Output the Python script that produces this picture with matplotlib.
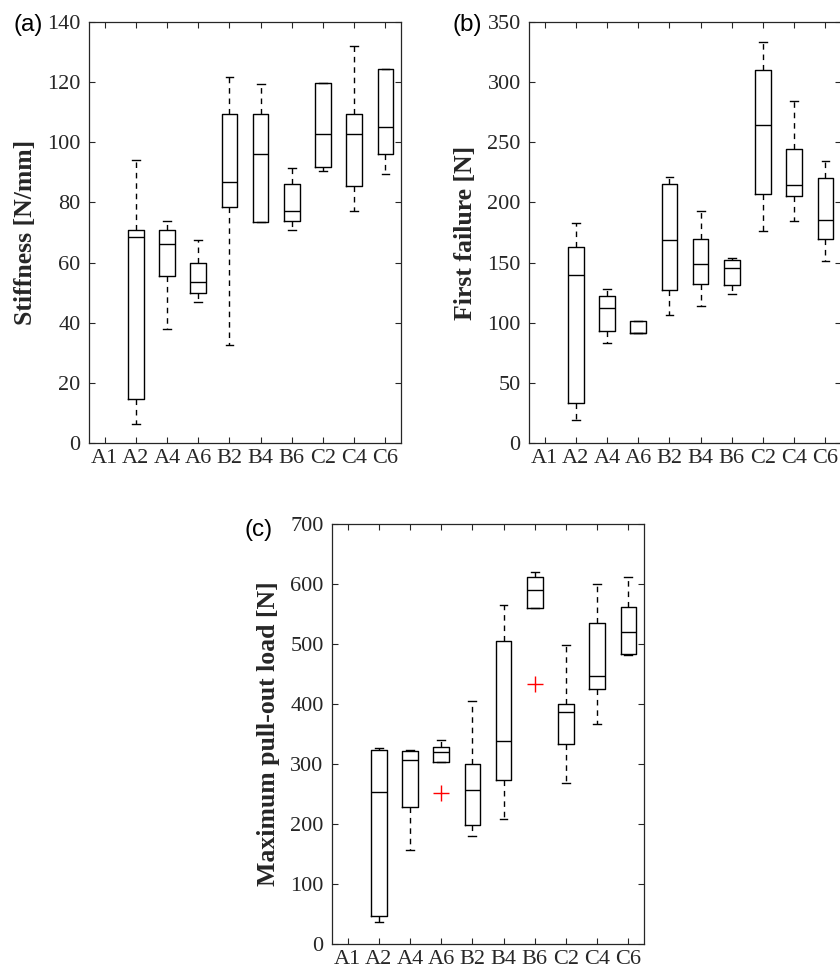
import matplotlib
matplotlib.use('Agg')
import matplotlib.pyplot as plt

# groups on the x axis; A1 has no data
groups = ['A1', 'A2', 'A4', 'A6', 'B2', 'B4', 'B6', 'C2', 'C4', 'C6']

# (a) stiffness [N/mm], groups A2..C6
stiff_lo = [6.4, 38.0, 46.8, 32.7, 73.4, 70.7, 90.3, 77.2, 89.5]
stiff_q1 = [14.7, 55.5, 49.9, 78.5, 73.4, 73.9, 91.9, 85.5, 96.1]
stiff_med = [68.4, 66.0, 53.5, 86.9, 96.2, 77.2, 102.6, 102.9, 105.1]
stiff_q3 = [70.9, 70.9, 59.9, 109.3, 109.5, 86.1, 119.7, 109.3, 124.5]
stiff_hi = [94.2, 73.8, 67.4, 121.6, 119.3, 91.6, 119.7, 131.9, 124.5]

# (b) first failure [N]
ff_lo = [18.8, 83.1, 91.7, 106.7, 113.6, 124.1, 176.5, 184.3, 151.3]
ff_q1 = [33.2, 92.8, 91.7, 126.9, 132.2, 131.6, 207.3, 205.0, 169.9]
ff_med = [139.7, 112.5, 91.7, 169.0, 148.8, 145.2, 264.6, 214.7, 185.6]
ff_q3 = [162.9, 122.2, 101.4, 215.6, 169.6, 151.8, 310.3, 244.7, 220.6]
ff_hi = [183.2, 128.0, 101.4, 220.8, 192.6, 153.8, 333.3, 284.0, 234.4]

# (c) maximum pull-out load [N]
pull_lo = [36.1, 156.5, 303.1, 180.4, 208.7, 560.1, 268.1, 367.5, 481.3]
pull_q1 = [47.2, 228.7, 303.1, 198.2, 272.6, 560.1, 333.1, 424.7, 484.1]
pull_med = [254.2, 305.9, 320.3, 256.5, 338.6, 590.1, 386.4, 447.4, 520.1]
pull_q3 = [323.6, 322.5, 328.6, 299.8, 505.2, 612.3, 400.8, 534.6, 562.3]
pull_hi = [327.5, 323.6, 339.7, 404.7, 564.6, 619.5, 499.1, 599.5, 611.7]
pull_out = [[], [], [251.5], [], [], [433.0], [], [], []]

plt.rcParams['font.family'] = 'Liberation Serif'
plt.rcParams['lines.scale_dashes'] = False
ink = '#262626'

fig = plt.figure(figsize=(8.4, 9.8), dpi=100)


def make_stats(lo, q1, med, q3, hi, out=None):
    stats = []
    for i in range(len(med)):
        stats.append({'whislo': lo[i], 'q1': q1[i], 'med': med[i],
                      'q3': q3[i], 'whishi': hi[i],
                      'fliers': out[i] if out else []})
    return stats


def draw_panel(rect, stats, ymax, ystep, ylabel, tag, tag_xy):
    ax = fig.add_axes(rect)
    ax.bxp(stats, positions=range(2, 11), widths=0.5, capwidths=0.25,
           boxprops=dict(color='k', lw=1.0),
           medianprops=dict(color='k', lw=1.0),
           whiskerprops=dict(color='k', lw=1.0, linestyle=(0, (4, 3.5))),
           capprops=dict(color='k', lw=1.0),
           flierprops=dict(marker='+', markeredgecolor='red',
                           markersize=11, markeredgewidth=1.0))
    ax.set_xlim(0.5, 10.5)
    ax.set_ylim(0, ymax)
    ax.set_xticks(range(1, 11))
    ax.set_xticklabels(groups)
    ax.set_yticks(range(0, ymax + 1, ystep))
    ax.tick_params(direction='in', top=True, right=True, length=4.5,
                   width=0.8, labelsize=16, color=ink, labelcolor=ink)
    ax.tick_params(axis='y', pad=6)
    ax.tick_params(axis='x', pad=4)
    for s in ax.spines.values():
        s.set_color(ink)
        s.set_linewidth(0.9)
    ax.set_ylabel(ylabel, fontsize=18.5, fontweight='bold', color=ink)
    ax.yaxis.set_label_coords(-0.167, 0.5)
    ax.text(tag_xy[0], tag_xy[1], tag, transform=ax.transAxes,
            family='Liberation Sans', fontsize=17.5, ha='right', va='center',
            color='k')
    return ax


draw_panel([0.106, 0.548, 0.3714, 0.4296],
           make_stats(stiff_lo, stiff_q1, stiff_med, stiff_q3, stiff_hi),
           140, 20, 'Stiffness [N/mm]', '(a)', (-0.147, 0.993))
draw_panel([0.6298, 0.548, 0.3714, 0.4296],
           make_stats(ff_lo, ff_q1, ff_med, ff_q3, ff_hi),
           350, 50, 'First failure [N]', '(b)', (-0.151, 0.993))
draw_panel([0.3952, 0.0367, 0.3714, 0.4286],
           make_stats(pull_lo, pull_q1, pull_med, pull_q3, pull_hi, pull_out),
           700, 100, 'Maximum pull-out load [N]', '(c)', (-0.189, 0.986))

fig.savefig('out.png', dpi=100)
